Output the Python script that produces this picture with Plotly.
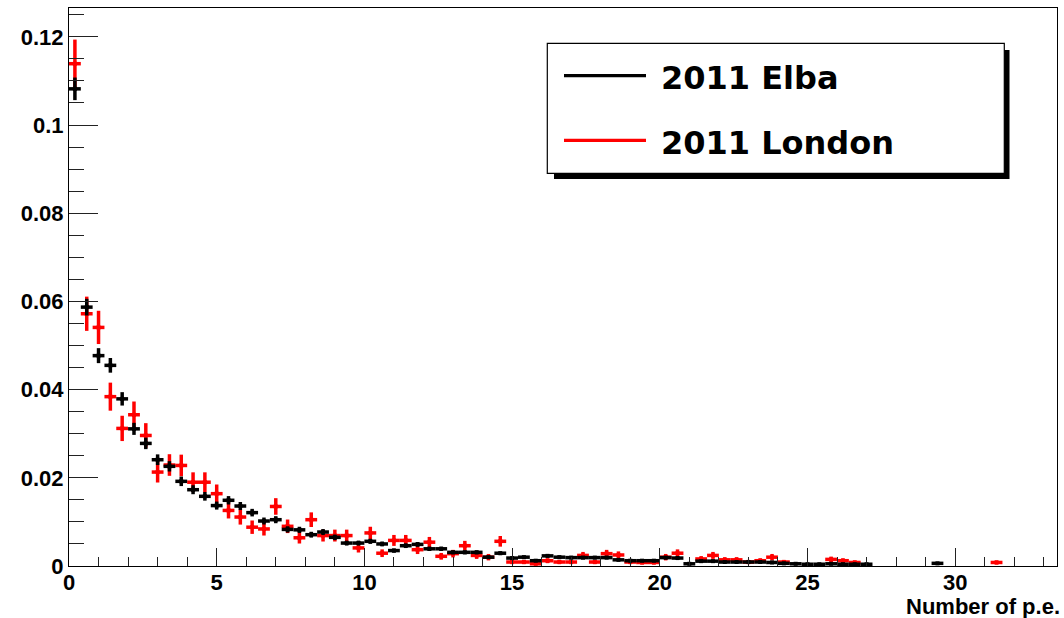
import plotly.graph_objects as go

# ---------------- data ----------------
bin_width = 0.4
bin_centers = [round(0.2 + 0.4 * i, 1) for i in range(84)]

elba_values = [
    0.1082, 0.0587, 0.0477, 0.0455, 0.0379, 0.0311, 0.0278, 0.0241, 0.0226, 0.0192,
    0.0173, 0.0158, 0.0137, 0.0149, 0.0136, 0.0121, 0.0102, 0.0105, 0.0083, 0.0082,
    0.0071, 0.0077, 0.0065, 0.0052, 0.0052, 0.0056, 0.0050, 0.0035, 0.0046, 0.0049,
    0.0039, 0.0039, 0.0031, 0.0031, 0.0031, 0.0020, 0.0029, 0.0018, 0.0020, 0.0012,
    0.0023, 0.0020, 0.0019, 0.0019, 0.0019, 0.0019, 0.0014, 0.0012, 0.0012, 0.0012,
    0.0019, 0.0018, 0.0005, 0.0011, 0.0011, 0.0009, 0.0009, 0.0009, 0.0009, 0.0008,
    0.0006, 0.0005, 0.0004, 0.0004, 0.0005, 0.0004, 0.0004, 0.0004, None, None,
    None, None, None, 0.0006, None, None, None, None, None, None,
    None, None, None, None,
]
elba_errors = [
    0.00256, 0.00189, 0.00170, 0.00166, 0.00152, 0.00137, 0.00130, 0.00121, 0.00117, 0.00108,
    0.00102, 0.00098, 0.00091, 0.00095, 0.00091, 0.00086, 0.00079, 0.00080, 0.00071, 0.00070,
    0.00066, 0.00068, 0.00063, 0.00056, 0.00056, 0.00058, 0.00055, 0.00046, 0.00053, 0.00054,
    0.00049, 0.00049, 0.00043, 0.00043, 0.00043, 0.00035, 0.00042, 0.00033, 0.00035, 0.00027,
    0.00037, 0.00035, 0.00034, 0.00034, 0.00034, 0.00034, 0.00029, 0.00027, 0.00027, 0.00027,
    0.00034, 0.00033, 0.00017, 0.00026, 0.00026, 0.00023, 0.00023, 0.00023, 0.00023, 0.00022,
    0.00019, 0.00017, 0.00016, 0.00016, 0.00017, 0.00016, 0.00016, 0.00016, 0, 0,
    0, 0, 0, 0.00019, 0, 0, 0, 0, 0, 0,
    0, 0, 0, 0,
]

london_values = [
    0.1139, 0.0572, 0.0541, 0.0384, 0.0312, 0.0343, 0.0296, 0.0213, 0.0229, 0.0228,
    0.0190, 0.0190, 0.0164, 0.0126, 0.0111, 0.0088, 0.0084, 0.0135, 0.0090, 0.0064,
    0.0105, 0.0069, 0.0069, 0.0069, 0.0041, 0.0075, 0.0029, 0.0058, 0.0058, 0.0037,
    0.0054, 0.0022, 0.0028, 0.0046, 0.0024, 0.0020, 0.0056, 0.0009, 0.0009, 0.0005,
    0.0012, 0.0009, 0.0009, 0.0024, 0.0009, 0.0028, 0.0025, 0.0009, 0.0008, 0.0008,
    0.0020, 0.0029, None, 0.0016, 0.0024, 0.0014, 0.0014, 0.0009, 0.0012, 0.0020,
    0.0009, None, None, None, 0.0015, 0.0012, 0.0008, None, None, None,
    None, None, None, None, None, None, None, None, 0.0008, None,
    None, None, None, None,
]
london_errors = [
    0.00547, 0.00388, 0.00377, 0.00318, 0.00287, 0.00300, 0.00279, 0.00237, 0.00245, 0.00245,
    0.00224, 0.00224, 0.00208, 0.00182, 0.00171, 0.00152, 0.00149, 0.00188, 0.00154, 0.00130,
    0.00166, 0.00135, 0.00135, 0.00135, 0.00104, 0.00140, 0.00087, 0.00124, 0.00124, 0.00099,
    0.00119, 0.00076, 0.00086, 0.00110, 0.00079, 0.00073, 0.00121, 0.00049, 0.00049, 0.00036,
    0.00056, 0.00049, 0.00049, 0.00079, 0.00049, 0.00086, 0.00081, 0.00049, 0.00046, 0.00046,
    0.00073, 0.00087, 0, 0.00065, 0.00079, 0.00061, 0.00061, 0.00049, 0.00056, 0.00073,
    0.00049, 0, 0, 0, 0.00063, 0.00056, 0.00046, 0, 0, 0,
    0, 0, 0, 0, 0, 0, 0, 0, 0.00046, 0,
    0, 0, 0, 0,
]

series_names = ["2011 Elba", "2011 London"]
x_tick_values = [0, 5, 10, 15, 20, 25, 30]
y_tick_values = [0, 0.02, 0.04, 0.06, 0.08, 0.1, 0.12]
x_title = "Number of p.e."

# ---------------- layout constants ----------------
W, H = 1064, 618
ML, MR, MT, MB = 69, 7, 8, 52
PW, PH = W - ML - MR, H - MT - MB
TICK_FONT = dict(family="Liberation Sans, Arial, sans-serif", size=22, color="black", weight="bold")
TITLE_FONT = dict(family="Liberation Sans, Arial, sans-serif", size=22, color="black", weight="bold")
LEG_FONT = dict(family="DejaVu Sans, sans-serif", size=32, color="black")


def px(x):
    return (x - ML) / PW


def py(y):
    return (H - MB - y) / PH


fig = go.Figure()


def add_hist(values, errors, color, name):
    fig.add_trace(go.Scatter(
        x=bin_centers, y=values, mode="markers", name=name, showlegend=False,
        marker=dict(color=color, size=4, symbol="square"),
        error_y=dict(type="data", array=errors, visible=True, thickness=3.5, width=0, color=color),
        error_x=dict(type="constant", value=bin_width / 2, visible=True, thickness=3.5, width=0, color=color),
    ))


add_hist(london_values, london_errors, "#ff0000", series_names[1])
add_hist(elba_values, elba_errors, "#000000", series_names[0])

axis_common = dict(
    showline=True, linecolor="black", linewidth=1, mirror=True,
    showgrid=False, zeroline=False, ticks="inside", tickcolor="#222", tickwidth=1,
    tickfont=TICK_FONT,
)

fig.update_xaxes(range=[0, PW / 29.54], tickvals=x_tick_values, ticklen=18, ticklabelstandoff=-3,
                 minor=dict(dtick=1, ticks="inside", ticklen=9, tickcolor="#222", tickwidth=1, showgrid=False),
                 **axis_common)
fig.update_yaxes(range=[0, PH / 4410], tickvals=y_tick_values, ticklen=29,
                 minor=dict(dtick=0.005, ticks="inside", ticklen=15, tickcolor="#222", tickwidth=1, showgrid=False),
                 **axis_common)

shapes = [
    # legend shadow
    dict(type="rect", xref="paper", yref="paper", x0=px(554), x1=px(1009.5), y0=py(179), y1=py(50),
         fillcolor="black", line=dict(width=0), layer="above"),
    # legend box
    dict(type="rect", xref="paper", yref="paper", x0=px(547.3), x1=px(1004.3), y0=py(173.3), y1=py(43.3),
         fillcolor="white", line=dict(color="black", width=1.2), layer="above"),
    dict(type="line", xref="paper", yref="paper", x0=px(564), x1=px(646), y0=py(75.7), y1=py(75.7),
         line=dict(color="black", width=3.3), layer="above"),
    dict(type="line", xref="paper", yref="paper", x0=px(564), x1=px(646), y0=py(140.3), y1=py(140.3),
         line=dict(color="#ff0000", width=3.3), layer="above"),
]

annotations = [
    dict(text="<b>%s</b>" % series_names[0], xref="paper", yref="paper", x=px(659), y=py(78.3),
         xanchor="left", yanchor="middle", showarrow=False, font=LEG_FONT),
    dict(text="<b>%s</b>" % series_names[1], xref="paper", yref="paper", x=px(659), y=py(143.3),
         xanchor="left", yanchor="middle", showarrow=False, font=LEG_FONT),
    dict(text=x_title, xref="paper", yref="paper", x=px(1061), y=py(620),
         xanchor="right", yanchor="bottom", showarrow=False, font=TITLE_FONT, borderpad=0),
]

fig.update_layout(
    width=W, height=H, autosize=False,
    margin=dict(l=ML, r=MR, t=MT, b=MB, pad=0),
    paper_bgcolor="white", plot_bgcolor="white",
    shapes=shapes, annotations=annotations, showlegend=False,
)

fig.write_html("out.html")
